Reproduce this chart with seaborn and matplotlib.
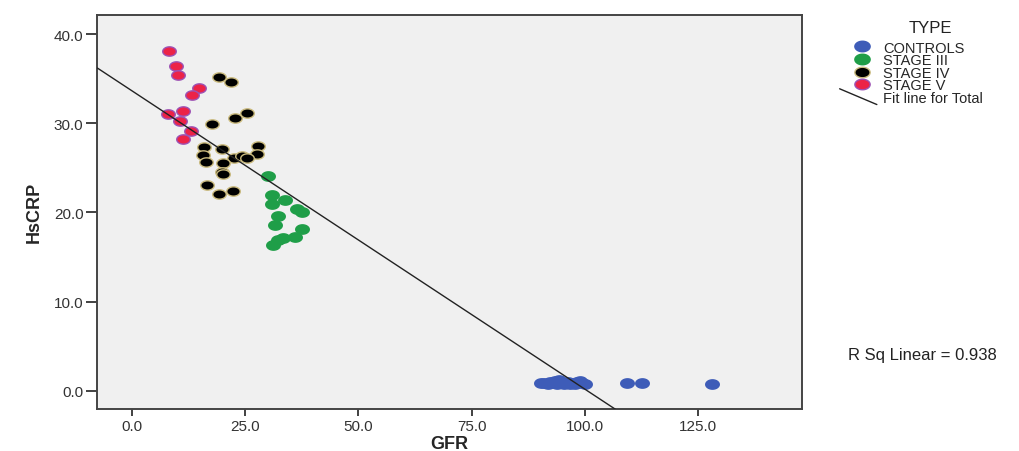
import numpy as np
import pandas as pd
import matplotlib
matplotlib.use("Agg")
import matplotlib.pyplot as plt
import seaborn as sns
from matplotlib.path import Path
from matplotlib.lines import Line2D
from matplotlib.legend_handler import HandlerBase

# values
controls_gfr = [90.2, 91.0, 91.8, 92.3, 92.9, 93.4, 93.8, 94.2, 94.6, 95.0, 95.4, 95.9,
                96.3, 96.8, 97.2, 97.7, 98.3, 98.9, 99.4, 100.0, 109.2, 112.6, 128.1]
controls_crp = [0.85, 0.90, 0.80, 0.95, 0.85, 1.05, 0.80, 1.25, 1.00, 0.85, 0.75, 0.90,
                1.00, 0.80, 0.85, 0.70, 0.95, 1.10, 0.85, 0.80, 0.85, 0.85, 0.75]

stage3_gfr = [30.1, 31.0, 31.0, 33.7, 36.4, 37.5, 32.3, 31.6, 37.5, 36.0, 33.4, 32.3, 31.2]
stage3_crp = [24.1, 22.0, 21.0, 21.4, 20.4, 20.0, 19.6, 18.6, 18.1, 17.2, 17.1, 16.9, 16.4]

stage4_gfr = [19.2, 21.9, 25.4, 22.8, 17.6, 15.9, 19.8, 27.9, 27.6, 15.7,
              22.6, 24.3, 25.5, 16.3, 20.1, 20.0, 20.1, 16.5, 22.3, 19.3]
stage4_crp = [35.2, 34.6, 31.2, 30.6, 29.9, 27.4, 27.1, 27.5, 26.6, 26.4,
              26.1, 26.3, 26.1, 25.7, 25.5, 24.6, 24.3, 23.1, 22.4, 22.1]

stage5_gfr = [8.3, 9.8, 10.1, 14.8, 13.2, 11.4, 7.9, 10.7, 13.0, 11.2]
stage5_crp = [38.1, 36.4, 35.4, 34.0, 33.2, 31.4, 31.1, 30.3, 29.1, 28.3]

types = ["CONTROLS", "STAGE III", "STAGE IV", "STAGE V"]
face_colors = {"CONTROLS": "#3e5cb8", "STAGE III": "#1f9e48",
               "STAGE IV": "#000000", "STAGE V": "#ec2347"}
edge_colors = {"CONTROLS": "#3e5cb8", "STAGE III": "#1f9e48",
               "STAGE IV": "#cbbb7e", "STAGE V": "#9c52b5"}

df = pd.concat([
    pd.DataFrame({"GFR": controls_gfr, "HsCRP": controls_crp, "TYPE": "CONTROLS"}),
    pd.DataFrame({"GFR": stage3_gfr, "HsCRP": stage3_crp, "TYPE": "STAGE III"}),
    pd.DataFrame({"GFR": stage4_gfr, "HsCRP": stage4_crp, "TYPE": "STAGE IV"}),
    pd.DataFrame({"GFR": stage5_gfr, "HsCRP": stage5_crp, "TYPE": "STAGE V"}),
], ignore_index=True)

# wide ellipse marker like the stretched SPSS circles
t = np.linspace(0, 2 * np.pi, 40)
ellipse = Path(np.column_stack([1.45 * np.cos(t), np.sin(t)]), closed=True)

sns.set_style("white")
plt.rcParams["font.family"] = ["Liberation Sans", "DejaVu Sans"]

fig = plt.figure(figsize=(10.19, 4.52), dpi=100)
ax = fig.add_axes([0.0955, 0.093, 0.6912, 0.8723])
ax.set_facecolor("#f0f0f0")
ax.set_xlim(-7.6, 147.8)
ax.set_ylim(-2.05, 42.2)

for typ in types:
    sub = df[df["TYPE"] == typ]
    sns.scatterplot(data=sub, x="GFR", y="HsCRP", ax=ax, marker=ellipse, s=95,
                    color=face_colors[typ], edgecolor=edge_colors[typ],
                    linewidth=1.0, zorder=3)

sns.regplot(data=df, x="GFR", y="HsCRP", ax=ax, scatter=False, ci=None,
            truncate=False, color="#222222", line_kws={"linewidth": 1.0, "zorder": 4})
ax.set_xlim(-7.6, 147.8)
ax.set_ylim(-2.05, 42.2)

ax.set_xticks([0, 25, 50, 75, 100, 125])
ax.set_yticks([0, 10, 20, 30, 40])
ax.xaxis.set_major_formatter(matplotlib.ticker.FormatStrFormatter("%.1f"))
ax.yaxis.set_major_formatter(matplotlib.ticker.FormatStrFormatter("%.1f"))
ax.tick_params(axis="x", direction="out", length=5, width=1.3, color="#333333",
               labelsize=11, labelcolor="#333333", pad=2, bottom=True)
ax.tick_params(axis="y", direction="out", length=8, width=1.3, color="#333333",
               labelsize=11, labelcolor="#333333", pad=2, left=True)
for sp in ax.spines.values():
    sp.set_color("#444444")
    sp.set_linewidth(1.4)

ax.set_xlabel("GFR", fontsize=13, fontweight="bold", labelpad=2)
ax.set_ylabel("HsCRP", fontsize=13, fontweight="bold", labelpad=8)


class DiagonalLineHandler(HandlerBase):
    def create_artists(self, legend, orig_handle, xdescent, ydescent,
                       width, height, fontsize, trans):
        line = Line2D([-xdescent - 8, width - xdescent + 2],
                      [height - ydescent + 2, -ydescent - 2],
                      color="#222222", linewidth=1.0, transform=trans)
        return [line]


handles = [Line2D([], [], linestyle="none", marker=ellipse, markersize=11,
                  markerfacecolor=face_colors[t_], markeredgecolor=edge_colors[t_],
                  markeredgewidth=1.0) for t_ in types]
fit_handle = Line2D([], [], color="#222222")
fig.legend(handles + [fit_handle], types + ["Fit line for Total"],
           loc="upper left", bbox_to_anchor=(0.822, 0.937), frameon=False,
           fontsize=10.5, handlelength=1.6, handletextpad=0.6, labelspacing=-0.1,
           handler_map={fit_handle: DiagonalLineHandler()})
fig.text(0.9127, 0.938, "TYPE", fontsize=12, color="#222222", ha="center", va="center")

fig.text(0.832, 0.214, "R Sq Linear = 0.938", fontsize=12, color="#222222",
         va="center", ha="left")

fig.savefig("out.png", dpi=100)
